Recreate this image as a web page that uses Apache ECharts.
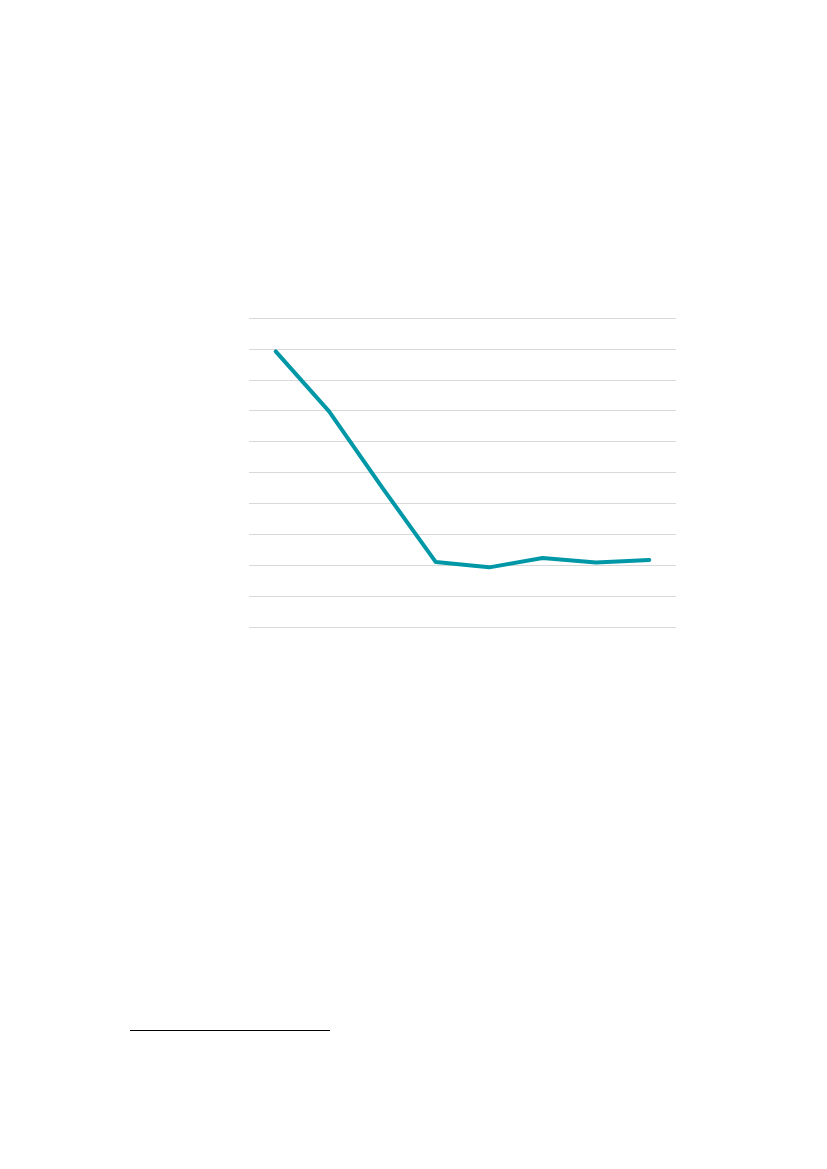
<!DOCTYPE html>
<html>
<head>
<meta charset="utf-8">
<title>chart</title>
<script src="https://cdn.jsdelivr.net/npm/echarts@6/dist/echarts.min.js"></script>
<style>
	html, body { margin: 0; padding: 0; background: #fff; }
	#main { width: 827px; height: 1169px; }
</style>
</head>
<body>
<div id="main"></div>
<script>
	// 数据
	var categories = ["1", "2", "3", "4", "5", "6", "7", "8"];
	var values = [8.92, 6.98, 4.5, 2.1, 1.93, 2.23, 2.09, 2.17];
	var yTicks = [0, 10, 1]; // min, max, interval

	var chart = echarts.init(document.getElementById("main"));

	var option = {
		backgroundColor: "#fff",
		animation: false,
		grid: {
			left: 249,
			top: 318,
			width: 427,
			height: 309
		},
		xAxis: {
			type: "category",
			data: categories,
			boundaryGap: true,
			axisLine: { show: false },
			axisTick: { show: false },
			axisLabel: { show: false }
		},
		yAxis: {
			type: "value",
			min: yTicks[0],
			max: yTicks[1],
			interval: yTicks[2],
			axisLine: { show: false },
			axisTick: { show: false },
			axisLabel: { show: false },
			splitLine: { lineStyle: { color: "#d9d9d9", width: 1 } }
		},
		series: [{
			type: "line",
			data: values,
			showSymbol: false,
			symbol: "none",
			lineStyle: { color: "#0097a7", width: 4, cap: "round", join: "round" }
		}],
		//脚注分隔线
		graphic: [{
			type: "line",
			shape: { x1: 130, y1: 1030.5, x2: 330, y2: 1030.5 },
			style: { stroke: "#000", lineWidth: 1 }
		}]
	};

	chart.setOption(option);
</script>
</body>
</html>
